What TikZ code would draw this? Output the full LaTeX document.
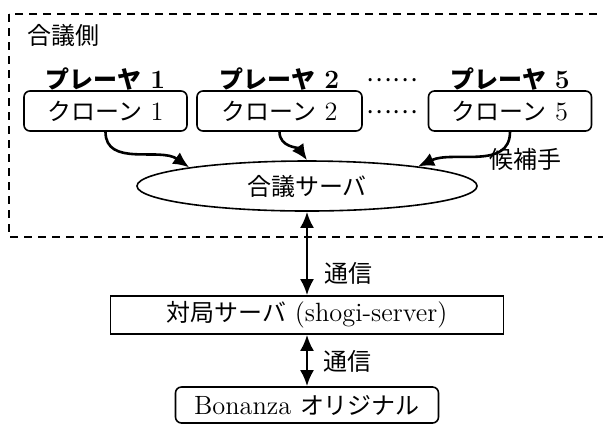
\documentclass[tikz,border=0pt]{standalone}
\usepackage{fontspec}
\setmainfont{Latin Modern Roman}[Scale=1.2]
\newfontfamily\cjk{Noto Sans CJK JP}[Scale=1.09]
\usetikzlibrary{shapes.geometric,arrows.meta}

\tikzset{
  clonebox/.style={draw,rounded corners=3pt,line width=0.8pt,
    minimum width=81.5pt,minimum height=20pt,inner sep=0pt},
  serverbox/.style={draw,line width=0.8pt,minimum height=19pt,inner sep=0pt},
  hubshape/.style={draw,ellipse,line width=0.8pt,minimum width=170pt,
    minimum height=25pt,inner sep=0pt},
  cand/.style={-{Latex[length=8pt,width=7pt]},line width=1.3pt},
  comm/.style={{Latex[length=8pt,width=7pt]}-{Latex[length=8pt,width=7pt]},line width=1.3pt},
  plain/.style={inner sep=0pt}
}

\begin{document}
\begin{tikzpicture}[x=0.5pt,y=-0.5pt,font=\fontsize{11}{13}\selectfont]
  \clip (0,0) rectangle (603,425);
  \fill [white] (0,0) rectangle (603,425);

  % the committee side
  \draw [line width=0.9pt,dash pattern=on 4pt off 3pt] (9,14) rectangle (640,237);
  \node (side) [plain,anchor=west] at (27,35) {\cjk 合議側};

  \node (p1) [plain] at (105.5,79) {{\cjk\bfseries プレーヤ} \textbf{1}};
  \node (p2) [plain] at (279.5,79) {{\cjk\bfseries プレーヤ} \textbf{2}};
  \node (p5) [plain] at (510,79) {{\cjk\bfseries プレーヤ} \textbf{5}};
  \node (dotsa) [plain] at (392,80) {\cjk ……};

  \node (c1) [clonebox] at (105.5,111) {{\cjk クローン} 1};
  \node (c2) [clonebox,minimum width=82.5pt] at (279.5,111) {{\cjk クローン} 2};
  \node (c5) [clonebox] at (510,111) {{\cjk クローン} 5};
  \node (dotsb) [plain] at (392,112) {\cjk ……};

  \node (hub) [hubshape] at (307,186) {\cjk 合議サーバ};
  \node (moves) [plain] at (525,159) {\cjk 候補手};

  \draw [cand] (c1.south) to[out=-90,in=145] (hub.171);
  \draw [cand] (c2.south) to[out=-90,in=125] (hub.north);
  \draw [cand] (c5.south) to[out=-90,in=25] (hub.10);

  % game server and the original program
  \node (server) [serverbox,minimum width=196.5pt] at (307,315)
    {{\cjk 対局サーバ} (shogi-server)};
  \node (bona) [clonebox,minimum width=131.5pt,minimum height=18pt] at (307,405)
    {Bonanza {\cjk オリジナル}};

  \draw [comm] (hub.south) -- (server.north);
  \node (comma) [plain,anchor=west] at (324,273) {\cjk 通信};
  \draw [comm] (server.south) -- (bona.north);
  \node (commb) [plain,anchor=west] at (323,361) {\cjk 通信};
\end{tikzpicture}
\end{document}
